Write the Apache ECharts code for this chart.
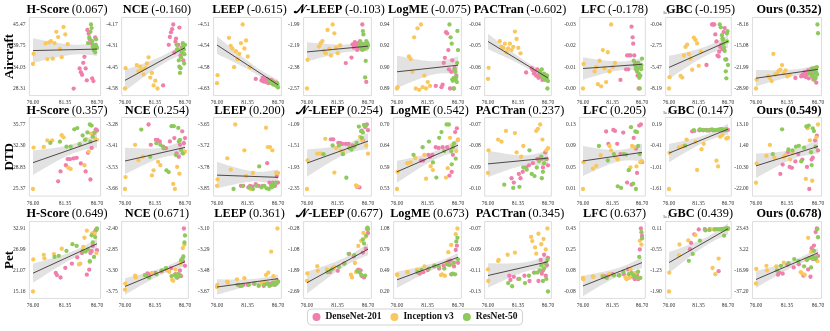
<!DOCTYPE html>
<html><head><meta charset="utf-8">
<script src="https://cdn.jsdelivr.net/npm/echarts@6/dist/echarts.min.js"></script>
<style>html,body{margin:0;padding:0;background:#fff}#c{width:830px;height:331px}</style>
</head><body><div id="c"></div>
<script>
// ---------------- DATA ----------------
const methods = ['H-Score','NCE','LEEP','\u{1D4A9}-LEEP','LogME','PACTran','LFC','GBC','Ours'];
const datasets = ['Aircraft','DTD','Pet'];
const models = ['DenseNet-201','Inception v3','ResNet-50'];
const scores_air = ['0.067','-0.160','-0.615','-0.103','-0.075','-0.602','-0.178','-0.195','0.352'];
const scores_dtd = ['0.357','0.254','0.200','0.254','0.542','0.237','0.205','0.147','0.549'];
const scores_pet = ['0.649','0.671','0.361','0.677','0.673','0.345','0.637','0.439','0.678'];
const xTicks = [76.00, 81.35, 86.70];

// fine-tuning accuracy per model: [DenseNet-201, Inception v3, ResNet-50]
const air_x = [
  [82.8,83.8,84.0,84.2,84.4,84.6,84.8,85.0,85.1,85.3,85.5,85.7,85.9,86.1,86.4],
  [76.0,76.1,78.1,78.4,78.7,79.0,79.3,79.6,79.9,80.2,80.5,80.8,81.1,81.4,81.8],
  [85.2,85.4,85.6,85.7,85.8,85.9,86.0,86.1,86.2,86.3,86.4,86.5,86.6,86.7,86.55]];
const dtd_x = [
  [80.2,80.6,81.5,81.8,82.2,82.8,83.3,84.0,84.8,85.2,85.6,85.8,86.2,86.5,86.7],
  [76.0,76.1,77.8,78.4,79.2,80.8,81.1,81.9,82.3,84.6,84.9,85.3,85.7,86.4,86.7],
  [78.9,80.5,81.6,82.3,82.9,83.4,83.8,84.3,84.7,85.1,85.5,85.8,86.0,86.3,85.6]];
const pet_x = [
  [79.8,80.0,80.6,81.4,82.5,83.4,84.2,85.0,85.4,85.6,85.8,86.0,86.3,86.5,86.7],
  [76.0,76.05,77.8,77.9,79.5,80.8,83.7,83.9,84.4,84.6,85.0,85.5,85.9,86.3,86.6],
  [79.6,80.3,81.6,82.6,83.3,84.3,84.8,85.2,85.5,85.8,86.0,86.2,86.4,86.6,86.7]];

// ---- Aircraft scores [DenseNet, Inception, ResNet]; tick labels bottom->top
const air_hscore = [
  [28.3,33.7,32.7,32.0,35.2,36.8,33.7,30.5,44.0,43.0,41.5,40.5,31.0,30.3,42.0],
  [34.9,37.6,40.4,36.2,40.7,41.0,36.3,40.5,43.5,42.1,38.9,36.7,44.8,42.8,40.2],
  [40.5,42.0,43.5,45.47,44.5,41.0,39.5,40.0,38.5,39.0,38.0,40.0,39.5,39.2,41.5]];
const air_hscore_t = ['28.31','34.03','39.75','45.47'];
const air_nce = [
  [-4.56,-4.30,-4.25,-4.22,-4.20,-4.17,-4.35,-4.28,-4.26,-4.33,-4.30,-4.19,-4.37,-4.32,-4.40],
  [-4.58,-4.45,-4.43,-4.47,-4.44,-4.46,-4.49,-4.45,-4.42,-4.38,-4.51,-4.48,-4.56,-4.53,-4.58],
  [-4.30,-4.33,-4.40,-4.44,-4.48,-4.45,-4.38,-4.35,-4.32,-4.29,-4.31,-4.33,-4.36,-4.30,-4.42]];
const air_nce_t = ['-4.58','-4.45','-4.31','-4.17'];
const air_leep = [
  [-4.612,-4.615,-4.61,-4.617,-4.613,-4.618,-4.612,-4.62,-4.615,-4.618,-4.614,-4.62,-4.617,-4.621,-4.619],
  [-4.62,-4.605,-4.535,-4.55,-4.555,-4.59,-4.56,-4.575,-4.565,-4.545,-4.51,-4.555,-4.54,-4.57,-4.59],
  [-4.615,-4.618,-4.62,-4.617,-4.622,-4.619,-4.621,-4.623,-4.62,-4.624,-4.622,-4.625,-4.623,-4.628,-4.62]];
const air_leep_t = ['-4.63','-4.58','-4.54','-4.51'];
const air_nleep = [
  [-2.34,-2.29,-2.17,-2.20,-2.15,-2.18,-2.22,-2.16,-2.19,-2.14,-2.21,-1.99,-2.17,-2.20,-2.51],
  [-2.57,-2.31,-2.19,-2.16,-2.14,-2.23,-2.25,-2.04,-2.21,-2.27,-1.99,-2.07,-2.20,-2.25,-2.18],
  [-2.18,-2.15,-2.20,-2.22,-2.05,-2.08,-2.17,-2.21,-2.47,-2.32,-2.14,-2.19,-2.16,-2.18,-2.20]];
const air_nleep_t = ['-2.57','-2.38','-2.19','-1.99'];
const air_logme = [
  [0.892,0.891,0.893,0.910,0.914,0.934,0.933,0.920,0.905,0.890,0.903,0.912,0.890,0.906,0.900],
  [0.890,0.891,0.915,0.913,0.903,0.930,0.890,0.937,0.889,0.940,0.891,0.900,0.890,0.895,0.892],
  [0.940,0.930,0.925,0.897,0.896,0.898,0.890,0.905,0.903,0.897,0.899,0.895,0.935,0.920,0.910]];
const air_logme_t = ['0.89','0.90','0.92','0.94'];
const air_pactran = [
  [-0.0625,-0.0605,-0.0615,-0.0630,-0.0620,-0.0640,-0.0610,-0.0650,-0.0635,-0.0625,-0.0645,-0.0660,-0.0655,-0.0650,-0.0640],
  [-0.0655,-0.0603,-0.0478,-0.0505,-0.0510,-0.0490,-0.0530,-0.0512,-0.0490,-0.0520,-0.0505,-0.0433,-0.0468,-0.0510,-0.0535],
  [-0.0620,-0.0635,-0.0610,-0.0640,-0.0650,-0.0645,-0.0630,-0.0655,-0.0660,-0.0650,-0.0645,-0.0655,-0.0700,-0.0665,-0.0640]];
const air_pactran_t = ['-0.07','-0.06','-0.05','-0.04'];
const air_lfc = [
  [-0.004,-0.009,-0.0155,-0.009,-0.0155,-0.0155,-0.029,-0.024,-0.021,-0.0155,-0.012,-0.009,-0.006,-0.000,-0.011],
  [-0.000,-0.0115,-0.008,-0.010,-0.002,-0.013,-0.001,-0.018,-0.0095,-0.003,-0.017,-0.008,-0.030,-0.010,-0.012],
  [-0.013,-0.011,-0.009,-0.010,-0.008,-0.0095,-0.012,-0.007,-0.005,-0.000,-0.006,-0.010,-0.011,-0.014,-0.009]];
const air_lfc_t = ['-0.00','-0.01','-0.02','-0.03'];
const air_gbc = [
  [-5.2,-0.04,-0.04,-0.04,-1.3,-2.2,-4.0,-4.1,-3.5,-2.9,-2.6,-3.2,-1.0,-0.5,-4.5],
  [-8.19,-6.75,-6.6,-6.8,-3.99,-2.9,-2.6,-3.8,-4.4,-5.8,-1.7,-2.0,-2.45,-5.3,-3.5],
  [-0.04,-0.4,-1.4,-1.8,-2.0,-2.5,-3.0,-3.4,-4.5,-6.0,-6.9,-1.2,-0.9,-5.2,-2.2]];
const air_gbc_t = ['-8.19','-5.47','-2.75','-0.04'];
const air_ours = [
  [-25.5,-25.0,-24.5,-24.8,-23.6,-25.2,-24.3,-23.0,-25.6,-24.0,-23.5,-24.6,-26.0,-22.4,-27.0],
  [-28.9,-26.0,-24.9,-25.5,-26.5,-17.7,-24.4,-24.0,-23.2,-22.8,-21.3,-24.0,-23.0,-25.0,-24.5],
  [-24.0,-23.5,-22.5,-25.0,-24.6,-23.0,-22.4,-26.0,-24.0,-25.5,-23.7,-22.0,-8.16,-11.0,-24.4]];
const air_ours_t = ['-28.90','-21.99','-15.08','-8.16'];

// ---- DTD
const dtd_hscore = [
  [26.6,28.2,29.2,30.2,30.2,30.3,30.4,29.5,28.2,31.2,26.9,32.0,34.4,35.0,34.8],
  [25.37,32.05,32.15,33.2,33.2,34.05,33.7,28.8,28.6,29.2,33.4,31.4,34.3,33.5,33.3],
  [32.8,33.0,32.2,32.2,35.0,35.2,32.6,34.0,33.3,34.5,35.77,35.6,33.8,34.5,33.0]];
const dtd_hscore_t = ['25.37','28.83','32.30','35.77'];
const dtd_nce = [
  [-3.28,-3.40,-3.37,-3.37,-3.38,-3.41,-3.42,-3.38,-3.36,-3.45,-3.47,-3.40,-3.32,-3.39,-3.36],
  [-3.66,-3.59,-3.40,-3.49,-3.47,-3.58,-3.55,-3.50,-3.52,-3.63,-3.66,-3.53,-3.57,-3.45,-3.44],
  [-3.31,-3.47,-3.39,-3.40,-3.42,-3.55,-3.56,-3.29,-3.29,-3.46,-3.30,-3.37,-3.43,-3.45,-3.38]];
const dtd_nce_t = ['-3.66','-3.53','-3.41','-3.28'];
const dtd_leep = [
  [-3.84,-3.84,-3.845,-3.84,-3.843,-3.835,-3.84,-3.84,-3.77,-3.83,-3.835,-3.83,-3.84,-3.81,-3.83],
  [-3.84,-3.82,-3.755,-3.79,-3.65,-3.73,-3.81,-3.85,-3.80,-3.66,-3.72,-3.72,-3.73,-3.80,-3.80],
  [-3.85,-3.84,-3.845,-3.85,-3.84,-3.78,-3.845,-3.84,-3.848,-3.85,-3.84,-3.835,-3.84,-3.83,-3.845]];
const dtd_leep_t = ['-3.85','-3.78','-3.72','-3.65'];
const dtd_nleep = [
  [-1.38,-1.38,-1.45,-1.45,-1.47,-1.47,-1.47,-1.50,-2.31,-2.32,-1.21,-1.40,-1.14,-1.09,-1.20],
  [-2.35,-1.79,-1.66,-1.66,-1.37,-2.03,-1.55,-1.60,-1.62,-2.28,-2.30,-1.33,-1.40,-1.50,-1.66],
  [-1.67,-1.50,-1.50,-1.67,-2.13,-1.55,-1.58,-1.52,-1.45,-1.13,-1.22,-1.25,-1.10,-1.12,-1.35]];
const dtd_nleep_t = ['-2.35','-1.93','-1.51','-1.09'];
const dtd_logme = [
  [0.605,0.605,0.620,0.615,0.620,0.640,0.638,0.640,0.640,0.565,0.575,0.620,0.680,0.690,0.660],
  [0.530,0.575,0.598,0.600,0.612,0.620,0.557,0.590,0.580,0.560,0.585,0.665,0.645,0.630,0.660],
  [0.620,0.640,0.655,0.600,0.560,0.665,0.680,0.630,0.700,0.700,0.630,0.640,0.650,0.610,0.595]];
const dtd_logme_t = ['0.53','0.59','0.64','0.70'];
const dtd_pactran = [
  [-0.095,-0.097,-0.093,-0.095,-0.092,-0.090,-0.089,-0.088,-0.086,-0.086,-0.086,-0.090,-0.083,-0.086,-0.089],
  [-0.0925,-0.082,-0.077,-0.078,-0.073,-0.074,-0.083,-0.085,-0.080,-0.073,-0.072,-0.070,-0.077,-0.082,-0.081],
  [-0.098,-0.0995,-0.099,-0.090,-0.091,-0.082,-0.093,-0.094,-0.090,-0.087,-0.085,-0.092,-0.088,-0.086,-0.095]];
const dtd_pactran_t = ['-0.10','-0.09','-0.08','-0.07'];
const dtd_lfc = [
  [0.117,0.094,0.120,0.118,0.094,0.075,0.115,0.022,0.018,0.105,0.085,0.040,0.128,0.130,0.060],
  [0.010,0.060,0.048,0.053,0.073,0.090,0.082,0.070,0.065,0.050,0.090,0.088,0.052,0.060,0.062],
  [0.090,0.063,0.075,0.015,0.012,0.075,0.074,0.045,0.125,0.020,0.117,0.116,0.090,0.075,0.010]];
const dtd_lfc_t = ['0.01','0.05','0.09','0.13'];
const dtd_gbc = [
  [0.00,0.01,0.03,0.04,0.03,0.04,0.02,0.03,0.04,0.05,0.03,0.04,0.02,0.05,0.04],
  [-1.61,-0.60,-0.45,-0.42,-0.23,-0.30,-1.08,-0.50,-0.35,-0.82,-0.98,-0.15,-0.10,-0.20,-0.18],
  [-0.40,0.03,0.05,0.04,0.02,0.04,0.05,0.03,0.04,0.04,0.05,0.03,0.04,0.05,0.06]];
const dtd_gbc_t = ['-1.61','-1.01','-0.41','0.19'];
const dtd_ours = [
  [-13.8,-8.7,-2.0,-10.0,-10.5,-7.0,-3.0,-6.0,-10.0,-22.0,-6.0,-5.0,4.5,7.0,-1.0],
  [-18.6,-8.1,-4.0,2.0,-5.0,-4.5,-3.5,-6.0,-2.5,-16.5,11.0,4.5,-17.5,6.0,13.1],
  [-3.0,10.5,-0.5,-1.0,1.0,1.5,-7.0,0.5,12.0,12.5,-2.0,11.0,9.5,1.0,-9.0]];
const dtd_ours_t = ['-22.00','-10.30','1.40','13.10'];

// ---- Pet
const pet_hscore = [
  [20.4,19.8,19.1,21.8,23.0,24.8,26.0,19.9,21.3,26.0,26.5,28.0,31.9,32.5,26.8],
  [15.16,24.2,25.5,24.5,25.7,27.2,22.8,23.0,27.7,30.3,32.3,23.5,31.5,31.5,26.0],
  [24.9,25.2,26.6,28.5,28.0,26.6,26.4,27.0,23.7,31.0,29.0,24.9,30.5,32.5,32.91]];
const pet_hscore_t = ['15.16','21.07','26.99','32.91'];
const pet_nce = [
  [-3.40,-3.36,-3.38,-3.35,-3.32,-3.28,-3.25,-3.38,-3.45,-3.38,-3.30,-3.42,-3.10,-2.40,-3.20],
  [-3.71,-3.58,-3.41,-3.45,-3.40,-3.35,-3.30,-3.33,-3.50,-3.52,-3.28,-3.38,-3.15,-2.82,-2.75],
  [-3.40,-3.45,-3.38,-3.30,-3.25,-3.42,-3.40,-3.45,-3.38,-3.40,-3.08,-3.05,-3.00,-2.70,-2.55]];
const pet_nce_t = ['-3.75','-3.30','-2.85','-2.40'];
const pet_leep = [
  [-3.61,-3.62,-3.61,-3.61,-3.60,-3.61,-3.62,-3.60,-3.61,-3.60,-3.59,-3.61,-3.60,-3.57,-3.58],
  [-3.63,-3.61,-3.58,-3.59,-3.56,-3.55,-3.60,-3.59,-3.58,-3.52,-3.50,-3.31,-3.53,-3.58,-3.10],
  [-3.61,-3.62,-3.61,-3.60,-3.62,-3.61,-3.60,-3.62,-3.61,-3.60,-3.59,-3.61,-3.60,-3.59,-3.58]];
const pet_leep_t = ['-3.67','-3.48','-3.29','-3.10'];
const pet_nleep = [
  [-1.92,-1.95,-1.80,-1.90,-1.62,-1.25,-1.35,-1.85,-1.88,-2.10,-1.20,-2.15,-1.05,-0.30,-0.45],
  [-2.28,-2.00,-1.72,-1.90,-1.84,-1.75,-2.05,-2.15,-1.60,-1.95,-0.95,-0.75,-0.45,-0.60,-0.28],
  [-1.95,-1.85,-1.75,-1.62,-1.25,-1.30,-1.90,-1.95,-2.05,-0.70,-0.85,-2.08,-0.55,-0.25,-0.30]];
const pet_nleep_t = ['-2.69','-1.89','-1.08','-0.28'];
const pet_logme = [
  [0.46,0.45,0.47,0.50,0.55,0.52,0.56,0.62,0.63,0.44,0.58,0.55,0.78,0.84,0.60],
  [0.44,0.43,0.47,0.47,0.50,0.55,0.43,0.44,0.42,0.60,0.75,0.85,0.60,1.00,1.08],
  [0.47,0.50,0.52,0.56,0.55,0.52,0.58,0.57,0.44,0.45,0.60,0.44,0.90,0.95,0.65]];
const pet_logme_t = ['0.20','0.49','0.79','1.08'];
const pet_pactran = [
  [-0.115,-0.119,-0.116,-0.118,-0.115,-0.120,-0.112,-0.120,-0.100,-0.113,-0.110,-0.095,-0.115,-0.105,-0.098],
  [-0.109,-0.120,-0.101,-0.100,-0.095,-0.093,-0.078,-0.082,-0.088,-0.094,-0.075,-0.085,-0.080,-0.090,-0.070],
  [-0.122,-0.125,-0.118,-0.122,-0.115,-0.112,-0.112,-0.110,-0.105,-0.120,-0.108,-0.103,-0.118,-0.100,-0.130]];
const pet_pactran_t = ['-0.13','-0.11','-0.09','-0.07'];
const pet_lfc = [
  [0.045,0.04,0.05,0.06,0.05,0.06,0.10,0.04,0.02,0.03,0.05,0.02,0.26,0.43,0.37],
  [0.03,0.02,0.04,0.04,0.05,0.06,0.035,0.02,0.03,0.10,0.05,0.07,0.03,0.33,0.30],
  [0.04,0.03,0.05,0.05,0.08,0.06,0.07,0.05,0.04,0.03,0.08,0.20,0.03,0.40,0.35]];
const pet_lfc_t = ['-0.08','0.08','0.25','0.43'];
const pet_gbc = [
  [-0.55,-0.35,-0.08,0.08,0.09,0.09,0.08,-1.25,0.09,0.08,0.10,0.09,0.10,0.11,0.10],
  [-1.90,-1.30,-0.75,-0.40,-0.27,-0.10,0.08,-1.15,-1.35,0.08,-0.85,0.08,0.07,0.08,0.09],
  [-0.92,-0.70,-0.28,0.05,0.06,0.08,0.09,0.08,0.09,0.10,-0.12,0.10,0.11,0.10,0.11]];
const pet_gbc_t = ['-1.90','-1.23','-0.55','0.11'];
const pet_ours = [
  [-21.0,-19.0,-20.0,-11.5,-14.0,-11.0,-22.0,-16.0,-23.0,4.5,-6.0,7.0,20.0,23.43,-3.0],
  [-29.5,-15.5,-12.5,-17.0,-13.0,-9.5,-18.5,-19.5,-21.0,-6.0,14.5,1.0,-5.0,-4.0,-8.0],
  [-17.0,-12.5,-10.0,-6.0,-8.0,-13.0,-7.0,-5.0,-14.0,-4.0,2.0,-6.0,-4.5,23.0,15.0]];
const pet_ours_t = ['-37.20','-16.99','3.22','23.43'];

// ---------------- LAYOUT / STYLE ----------------
const rowsX = [air_x, dtd_x, pet_x];
const rowsY = [
  [air_hscore, air_nce, air_leep, air_nleep, air_logme, air_pactran, air_lfc, air_gbc, air_ours],
  [dtd_hscore, dtd_nce, dtd_leep, dtd_nleep, dtd_logme, dtd_pactran, dtd_lfc, dtd_gbc, dtd_ours],
  [pet_hscore, pet_nce, pet_leep, pet_nleep, pet_logme, pet_pactran, pet_lfc, pet_gbc, pet_ours]];
const rowsT = [
  [air_hscore_t, air_nce_t, air_leep_t, air_nleep_t, air_logme_t, air_pactran_t, air_lfc_t, air_gbc_t, air_ours_t],
  [dtd_hscore_t, dtd_nce_t, dtd_leep_t, dtd_nleep_t, dtd_logme_t, dtd_pactran_t, dtd_lfc_t, dtd_gbc_t, dtd_ours_t],
  [pet_hscore_t, pet_nce_t, pet_leep_t, pet_nleep_t, pet_logme_t, pet_pactran_t, pet_lfc_t, pet_gbc_t, pet_ours_t]];
const rowsS = [scores_air, scores_dtd, scores_pet];

const FONT_NAME = 'Liberation Serif';
const FONT = '"Liberation Serif","Times New Roman",serif';
const colors = ['#f07fab', '#f9c75b', '#8dc95b'];
const t76 = [33,125,217,307,397,488,583,669,756];
const t86 = [97,185,278,368,458,548,642,728,818];
const rowTT = [24.5,124.5,228.5], rowTB = [88.5,189,291.5];
const titleY = [10, 111, 213.5];
const TITLE_FS = 12.3;
const XPAD = 0.6, YPAD = 0.11;

const mctx = document.createElement('canvas').getContext('2d');
function textW(t, bold){ mctx.font=(bold?'bold ':'')+TITLE_FS+'px "'+FONT_NAME+'"'; return mctx.measureText(t).width; }

const grids=[], xAxes=[], yAxes=[], series=[], graphics=[];

function regress(pts){
  const n=pts.length; let sx=0,sy=0; pts.forEach(p=>{sx+=p[0];sy+=p[1];});
  const mx=sx/n, my=sy/n; let sxx=0,sxy=0;
  pts.forEach(p=>{sxx+=(p[0]-mx)**2; sxy+=(p[0]-mx)*(p[1]-my);});
  const b=sxy/sxx, a=my-b*mx; let sse=0;
  pts.forEach(p=>{sse+=(p[1]-a-b*p[0])**2;});
  const s=Math.sqrt(sse/(n-2));
  return {a,b,mx,sxx,s,n};
}

for(let r=0;r<3;r++){
  for(let c=0;c<9;c++){
    const idx=r*9+c;
    const k=(t86[c]-t76[c])/(xTicks[2]-xTicks[0]);
    const left=t76[c]-XPAD*k, right=t86[c]+XPAD*k;
    const S=rowTB[r]-rowTT[r];
    const top=rowTT[r]-YPAD*S, height=S*(1+2*YPAD);
    grids.push({left:left, top:top, width:right-left, height:height, show:true,
      borderColor:'#d4d4d4', borderWidth:0.8, backgroundColor:'rgba(0,0,0,0)',
      containLabel:false, outerBoundsMode:'none'});
    xAxes.push({gridIndex:idx, type:'value', min:xTicks[0]-XPAD, max:xTicks[2]+XPAD,
      axisLine:{show:false}, axisTick:{show:false}, splitLine:{show:false},
      axisLabel:{customValues:xTicks, formatter:v=>v.toFixed(2), fontSize:5.5, fontFamily:FONT, color:'#333', margin:4}});
    const T=rowsT[r][c];
    const lo=parseFloat(T[0]), hi=parseFloat(T[3]);
    const inv=lo>hi, mn=Math.min(lo,hi), mx=Math.max(lo,hi), span=mx-mn;
    const tv=[0,1,2,3].map(i=>lo+i*(hi-lo)/3);
    yAxes.push({gridIndex:idx, type:'value', min:mn-YPAD*span, max:mx+YPAD*span, inverse:inv,
      axisLine:{show:false}, axisTick:{show:false}, splitLine:{show:false},
      axisLabel:{customValues:tv, fontSize:5.5, fontFamily:FONT, color:'#333', margin:4,
        formatter:v=>{let bi=0,bd=1e9; tv.forEach((t,i)=>{const d=Math.abs(t-v); if(d<bd){bd=d;bi=i;}}); return T[bi];}}});

    const X=rowsX[r], Y=rowsY[r][c];
    const all=[];
    for(let m=0;m<3;m++) X[m].forEach((x,i)=>all.push([x,Y[m][i]]));
    const R=regress(all);
    let xmin=Infinity,xmax=-Infinity; all.forEach(p=>{xmin=Math.min(xmin,p[0]);xmax=Math.max(xmax,p[0]);});
    const up=[],dn=[];
    const NS=40, tq=2.016;
    for(let i=0;i<=NS;i++){
      const x=xmin+(xmax-xmin)*i/NS, yh=R.a+R.b*x;
      const se=R.s*Math.sqrt(1/R.n+(x-R.mx)**2/R.sxx);
      up.push([x,yh+tq*se]); dn.push([x,yh-tq*se]);
    }
    const band=up.concat(dn.reverse());
    series.push({type:'custom', xAxisIndex:idx, yAxisIndex:idx, silent:true, clip:true, z:1,
      data:[[xmin, R.a+R.b*xmin]],
      renderItem:(params,api)=>({type:'polygon', shape:{points:band.map(p=>api.coord(p))},
        style:{fill:'rgba(185,185,185,0.42)'}})});
    for(let m=0;m<3;m++){
      series.push({type:'scatter', name:models[m], xAxisIndex:idx, yAxisIndex:idx, silent:true, z:2,
        symbolSize:4.3, itemStyle:{color:colors[m], opacity:1},
        data:X[m].map((x,i)=>[x,Y[m][i]])});
    }
    series.push({type:'line', xAxisIndex:idx, yAxisIndex:idx, silent:true, z:3, symbol:'none',
      lineStyle:{color:'#3f3535', width:0.9},
      data:[[xmin,R.a+R.b*xmin],[xmax,R.a+R.b*xmax]]});

    // title: bold method name + score (bold only for Ours)
    const isOurs=(c===8);
    const t1=methods[c], t2='('+rowsS[r][c]+')';
    const sp=2.5;
    const w1=textW(t1,true), w2=textW(t2,isOurs);
    const cx=(left+right)/2+2;
    const x0=cx-(w1+sp+w2)/2;
    graphics.push({type:'text', x:x0, y:titleY[r], silent:true,
      style:{text:t1, fontFamily:FONT, fontWeight:'bold', fontSize:TITLE_FS, fill:'#000', align:'left', verticalAlign:'middle'}});
    graphics.push({type:'text', x:x0+w1+sp, y:titleY[r], silent:true,
      style:{text:t2, fontFamily:FONT, fontWeight:isOurs?'bold':'normal', fontSize:TITLE_FS, fill:'#000', align:'left', verticalAlign:'middle'}});
    if(c===7){
      graphics.push({type:'text', x:left-3, y:top-2, silent:true,
        style:{text:'1e1', fontFamily:FONT, fontSize:5, fill:'#333', align:'left', verticalAlign:'bottom'}});
    }
  }
  graphics.push({type:'text', x:10, y:(rowTT[r]+rowTB[r])/2, rotation:Math.PI/2, silent:true,
    style:{text:datasets[r], fontFamily:FONT, fontWeight:'bold', fontSize:13, fill:'#000', align:'center', verticalAlign:'middle'}});
}

const chart=echarts.init(document.getElementById('c'),null,{renderer:'canvas'});
chart.setOption({
  animation:false,
  backgroundColor:'#fff',
  grid:grids, xAxis:xAxes, yAxis:yAxes, series:series,
  legend:{data:models, top:309, left:'center', icon:'circle', itemWidth:8, itemHeight:8, itemGap:9,
    textStyle:{fontFamily:FONT, fontWeight:'bold', fontSize:9.5, color:'#111'},
    borderColor:'#c8c8c8', borderWidth:0.8, borderRadius:4, padding:[3,5], backgroundColor:'#fff'},
  graphic:graphics
});
</script></body></html>
